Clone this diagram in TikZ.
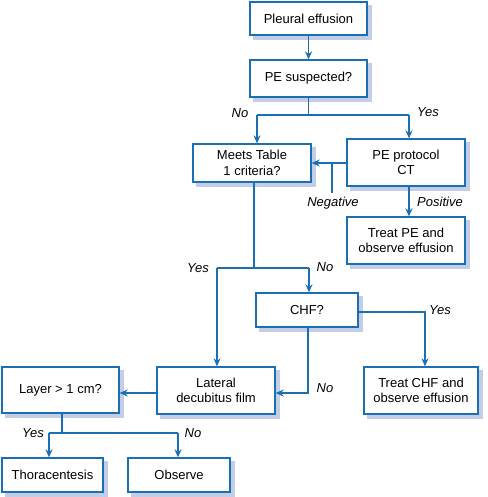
\documentclass[tikz,border=0pt]{standalone}
\usepackage{fontspec}
\setmainfont{Liberation Sans}
\usetikzlibrary{arrows.meta, backgrounds}
\definecolor{flowblue}{HTML}{1A6FB5}
\definecolor{shadowblue}{HTML}{C3CDE6}
\begin{document}
\begin{tikzpicture}[
            x=1pt, y=-1pt,
            box/.style={draw=flowblue, line width=1.3pt, fill=white, align=center,
                inner sep=2pt, font=\fontsize{13}{15.5}\selectfont},
            link/.style={draw=flowblue, line width=1.5pt},
            arr/.style={link, -{Stealth[length=8pt, width=7pt]}},
            lbl/.style={font=\fontsize{13}{15}\selectfont\itshape},
        ]
            \useasboundingbox (0, 0) rectangle (487, 497);

            %% boxes
            \node[box, minimum width=117pt, minimum height=33pt] (pleural) at (308.5, 18.5) {Pleural effusion};
            \node[box, minimum width=117pt, minimum height=37pt] (suspected) at (308.5, 78.5) {PE suspected?};
            \node[box, minimum width=118pt, minimum height=38pt] (meets) at (252, 163) {Meets Table\\1 criteria?};
            \node[box, minimum width=118pt, minimum height=47pt] (protocol) at (406, 162.5) {PE protocol\\CT};
            \node[box, minimum width=118pt, minimum height=47pt] (treatpe) at (406, 240.5) {Treat PE and\\observe effusion};
            \node[box, minimum width=102pt, minimum height=34pt] (chf) at (307, 310) {CHF?};
            \node[box, minimum width=114pt, minimum height=47pt] (treatchf) at (421, 390.5) {Treat CHF and\\observe effusion};
            \node[box, minimum width=118pt, minimum height=47pt] (lateral) at (216, 390.5) {Lateral\\decubitus film};
            \node[box, minimum width=117pt, minimum height=46pt] (layer) at (60.5, 390) {Layer {\textgreater} 1 cm?};
            \node[box, minimum width=101pt, minimum height=34pt] (thora) at (52.5, 475) {Thoracentesis};
            \node[box, minimum width=102pt, minimum height=34pt] (observe) at (179, 475) {Observe};

            %% shadows behind the boxes
            \begin{scope}[on background layer]
                \foreach \n in {pleural, suspected, meets, protocol, treatpe, chf,
                        treatchf, lateral, layer, thora, observe}{
                    \fill[shadowblue] ([shift={(4pt,-4pt)}]\n.south west)
                        rectangle ([shift={(4pt,-4pt)}]\n.north east);
                }
            \end{scope}

            %% junctions
            \coordinate (j1) at (308.5, 115);
            \coordinate (j1no) at (257, 115);
            \coordinate (j1yes) at (409, 115);
            \coordinate (neg) at (332, 193);
            \coordinate (j2) at (254, 268);
            \coordinate (j2yes) at (217, 268);
            \coordinate (j2no) at (309, 268);
            \coordinate (j3) at (425, 312);
            \coordinate (j4) at (308, 393);
            \coordinate (j5) at (62, 433);
            \coordinate (j5yes) at (49, 433);
            \coordinate (j5no) at (178, 433);

            %% connectors
            \draw[arr] (pleural) -- (suspected);
            \draw[link] (suspected.south) -- (j1);
            \draw[link] (j1no) -- (j1yes);
            \draw[arr] (j1no) -- (j1no |- meets.north);
            \draw[arr] (j1yes) -- (j1yes |- protocol.north);
            \draw[arr] (protocol.west |- meets.east) -- (meets.east);
            \draw[link] (neg |- meets.east) -- (neg);
            \draw[arr] ([xshift=3pt]protocol.south) -- ([xshift=3pt]treatpe.north);
            \draw[link] (j2 |- meets.south) -- (j2);
            \draw[link] (j2yes) -- (j2no);
            \draw[arr] (j2yes) -- (j2yes |- lateral.north);
            \draw[arr] (j2no) -- (j2no |- chf.north);
            \draw[arr] (chf.east |- j3) -- (j3) -- (j3 |- treatchf.north);
            \draw[arr] (j4 |- chf.south) -- (j4) -- (j4 -| lateral.east);
            \draw[arr] (lateral.west |- j4) -- (layer.east |- j4);
            \draw[link] (j5 |- layer.south) -- (j5);
            \draw[link] (j5yes) -- (j5no);
            \draw[arr] (j5yes) -- (j5yes |- thora.north);
            \draw[arr] (j5no) -- (j5no |- observe.north);

            %% labels
            \node[lbl] (lno1) at (240, 113) {No};
            \node[lbl] (lyes1) at (428, 112) {Yes};
            \node[lbl] (lneg) at (333, 203) {Negative};
            \node[lbl] (lpos) at (440, 202) {Positive};
            \node[lbl] (lyes2) at (198, 268) {Yes};
            \node[lbl] (lno2) at (325, 267) {No};
            \node[lbl] (lyes3) at (440, 310) {Yes};
            \node[lbl] (lno3) at (325, 388) {No};
            \node[lbl] (lyes4) at (33, 433) {Yes};
            \node[lbl] (lno4) at (193, 433) {No};
        \end{tikzpicture}
\end{document}
